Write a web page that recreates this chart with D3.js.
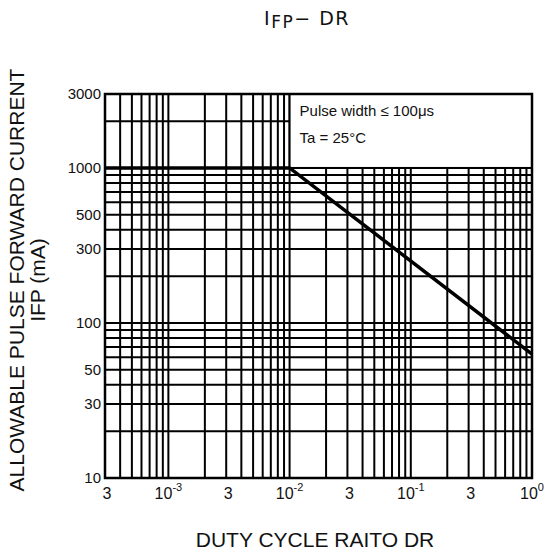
<!DOCTYPE html>
<html><head><meta charset="utf-8">
<script src="https://cdn.jsdelivr.net/npm/d3@7"></script>
<style>body{margin:0;background:#fff}svg{display:block}text{font-family:"Liberation Sans",Arial,sans-serif;fill:#111}</style>
</head><body>
<script>
const curveX = [3e-4, 1e-2, 1];
const curveY = [1000, 1000, 63];
const xTickValues = [3e-4, 1e-3, 3e-3, 1e-2, 3e-2, 1e-1, 3e-1, 1];
const xTickBase = ["3", "10", "3", "10", "3", "10", "3", "10"];
const xTickExp = ["", "-3", "", "-2", "", "-1", "", "0"];
const yTickValues = [10, 30, 50, 100, 300, 500, 1000, 3000];
const yTickLabels = ["10", "30", "50", "100", "300", "500", "1000", "3000"];
const legendLines = ["Pulse width \u2264 100\u03bcs", "Ta = 25\u00b0C"];

const W = 545, H = 553;
const m = {left: 105, right: 532, top: 94, bottom: 478};
const svg = d3.select("body").append("svg").attr("width", W).attr("height", H);
const x = d3.scaleLog().domain([3e-4, 1]).range([m.left, m.right]);
const y = d3.scaleLog().domain([10, 3000]).range([m.bottom, m.top]);

// grid
const xGrid = [];
for (let e = -4; e <= -1; e++) for (let k = 1; k <= 9; k++) { const v = k * Math.pow(10, e); if (v > 3e-4 && v < 1) xGrid.push(v); }
const yGrid = [];
for (let e = 1; e <= 3; e++) for (let k = 1; k <= 9; k++) { const v = k * Math.pow(10, e); if (v > 10 && v < 3000) yGrid.push(v); }
const g = svg.append("g");
g.selectAll(".vx").data(xGrid).join("line")
  .attr("x1", d => x(d)).attr("x2", d => x(d)).attr("y1", m.top).attr("y2", m.bottom)
  .attr("stroke", "#000").attr("stroke-width", 2);
g.selectAll(".hy").data(yGrid).join("line")
  .attr("y1", d => y(d)).attr("y2", d => y(d)).attr("x1", m.left).attr("x2", m.right)
  .attr("stroke", "#000").attr("stroke-width", 2);

// legend box
svg.append("rect").attr("x", x(1e-2)).attr("y", y(3000)).attr("width", x(1) - x(1e-2)).attr("height", y(1000) - y(3000))
  .attr("fill", "#fff").attr("stroke", "#000").attr("stroke-width", 2);
svg.selectAll(".leg").data(legendLines).join("text")
  .attr("x", x(1e-2) + 10).attr("y", (d, i) => 116 + i * 27)
  .attr("font-size", 15).text(d => d);

// curve
const line = d3.line().x(d => x(d[0])).y(d => y(d[1]));
svg.append("path").datum(curveX.map((v, i) => [v, curveY[i]])).attr("d", line)
  .attr("fill", "none").attr("stroke", "#000").attr("stroke-width", 3.5);

// frame
svg.append("rect").attr("x", m.left).attr("y", m.top).attr("width", m.right - m.left).attr("height", m.bottom - m.top)
  .attr("fill", "none").attr("stroke", "#000").attr("stroke-width", 2.5);

// y ticks
svg.selectAll(".yl").data(yTickValues).join("text")
  .attr("x", m.left - 4).attr("y", d => y(d)).attr("dy", "0.35em")
  .attr("text-anchor", "end").attr("font-size", 15).text((d, i) => yTickLabels[i]);

// x ticks
const xl = svg.selectAll(".xl").data(xTickValues).join("text")
  .attr("x", (d, i) => x(d) + (xTickExp[i] ? 0 : 2)).attr("y", 499)
  .attr("text-anchor", "middle").attr("font-size", 16);
xl.append("tspan").text((d, i) => xTickBase[i]);
xl.append("tspan").attr("dy", -8).attr("font-size", 11).text((d, i) => xTickExp[i]);

// titles
const t = svg.append("text").attr("x", 307).attr("y", 25).attr("text-anchor", "middle")
  .style("font-family", "'DejaVu Sans', sans-serif").attr("font-size", 19).attr("letter-spacing", 1.5);
t.append("tspan").text("I");
t.append("tspan").attr("font-size", 17).attr("dy", 2.7).text("FP");
t.append("tspan").attr("dy", -2.7).text("\u2212 DR");

svg.append("text").attr("x", 315).attr("y", 547).attr("text-anchor", "middle").attr("font-size", 21).text("DUTY CYCLE RAITO DR");
const yt = svg.append("text").attr("transform", "translate(24,280) rotate(-90)").attr("text-anchor", "middle").attr("font-size", 21);
yt.append("tspan").attr("x", 0).attr("y", 0).text("ALLOWABLE PULSE FORWARD CURRENT");
yt.append("tspan").attr("x", 0).attr("y", 21).text("IFP (mA)");
</script>
</body></html>
